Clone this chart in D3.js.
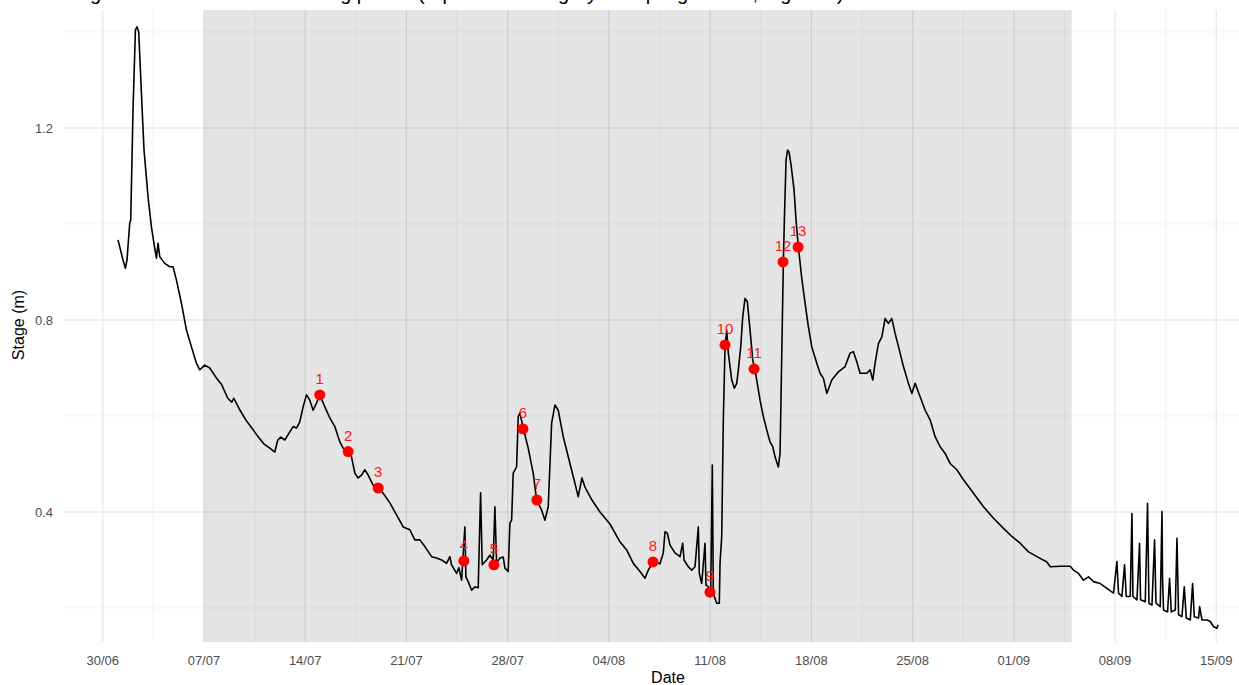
<!DOCTYPE html>
<html>
<head>
<meta charset="utf-8">
<script src="https://cdn.jsdelivr.net/npm/d3@7"></script>
<style>
  body { margin: 0; background: #fff; }
  text { font-family: "Liberation Sans", Arial, sans-serif; }
</style>
</head>
<body>
<div id="chart"></div>
<script>
// stage record: [days since 30/06, stage in m]
const stageRecord = [
  [1.058,0.967],[1.404,0.925],[1.570,0.908],[1.681,0.925],[1.868,1.002],[1.937,1.008],[2.096,1.237],[2.262,1.404],
  [2.373,1.411],[2.490,1.400],[2.677,1.273],[2.857,1.154],[3.134,1.057],[3.369,0.994],[3.597,0.950],[3.715,0.929],
  [3.826,0.960],[3.943,0.932],[4.289,0.918],[4.635,0.911],[4.863,0.911],[5.099,0.883],[5.444,0.835],[5.790,0.779],
  [6.136,0.744],[6.482,0.710],[6.710,0.696],[7.056,0.706],[7.402,0.700],[7.866,0.679],[8.232,0.665],[8.648,0.637],
  [8.924,0.629],[9.063,0.637],[9.478,0.613],[9.893,0.592],[10.308,0.575],[10.723,0.558],[11.138,0.542],[11.553,0.533],
  [11.899,0.525],[12.107,0.550],[12.314,0.556],[12.591,0.550],[12.937,0.567],[13.165,0.578],[13.400,0.575],[13.628,0.588],
  [13.857,0.619],[14.092,0.644],[14.320,0.633],[14.549,0.612],[14.784,0.627],[15.012,0.644],[15.358,0.619],[15.704,0.596],
  [16.050,0.578],[16.396,0.546],[16.624,0.533],[16.970,0.526],[17.205,0.515],[17.433,0.481],[17.662,0.471],[17.897,0.477],
  [18.125,0.488],[18.354,0.477],[18.700,0.456],[19.046,0.450],[19.391,0.439],[19.855,0.419],[20.318,0.394],[20.775,0.369],
  [21.238,0.363],[21.584,0.342],[21.930,0.342],[22.276,0.328],[22.739,0.307],[23.085,0.304],[23.431,0.300],[23.777,0.293],
  [24.005,0.307],[24.123,0.290],[24.469,0.272],[24.628,0.284],[24.815,0.258],[25.043,0.369],[25.112,0.265],[25.271,0.255],
  [25.507,0.237],[25.735,0.244],[25.963,0.242],[26.129,0.440],[26.240,0.290],[26.544,0.300],[26.772,0.310],[27.000,0.300],
  [27.118,0.411],[27.236,0.294],[27.464,0.304],[27.693,0.306],[27.811,0.283],[28.039,0.276],[28.156,0.377],[28.274,0.383],
  [28.385,0.481],[28.620,0.494],[28.731,0.599],[28.848,0.606],[29.076,0.575],[29.422,0.533],[29.768,0.481],[30.003,0.425],
  [30.349,0.404],[30.577,0.383],[30.806,0.411],[31.041,0.585],[31.269,0.623],[31.497,0.612],[31.843,0.557],[32.189,0.515],
  [32.535,0.474],[32.881,0.432],[33.137,0.471],[33.345,0.452],[33.829,0.425],[34.382,0.400],[35.074,0.375],[35.766,0.338],
  [36.229,0.321],[36.686,0.293],[37.150,0.276],[37.496,0.262],[37.724,0.279],[38.070,0.296],[38.533,0.292],[38.762,0.315],
  [38.879,0.359],[39.038,0.356],[39.225,0.331],[39.571,0.315],[39.917,0.307],[40.104,0.335],[40.194,0.300],[40.492,0.286],
  [40.727,0.279],[40.955,0.286],[41.183,0.369],[41.252,0.272],[41.418,0.251],[41.646,0.335],[41.715,0.248],[41.875,0.244],
  [42.041,0.237],[42.151,0.498],[42.220,0.230],[42.456,0.210],[42.635,0.210],[42.684,0.293],[42.801,0.349],[42.912,0.592],
  [43.030,0.744],[43.148,0.779],[43.258,0.731],[43.494,0.675],[43.674,0.658],[43.840,0.668],[43.950,0.696],[44.116,0.744],
  [44.255,0.807],[44.414,0.845],[44.573,0.838],[44.760,0.779],[44.946,0.717],[45.105,0.696],[45.223,0.675],[45.451,0.633],
  [45.680,0.599],[45.915,0.571],[46.143,0.546],[46.330,0.536],[46.489,0.515],[46.717,0.494],[46.835,0.522],[46.994,0.800],
  [47.063,0.921],[47.133,1.008],[47.250,1.133],[47.354,1.154],[47.457,1.150],[47.596,1.123],[47.803,1.071],[47.942,1.008],
  [48.101,0.952],[48.336,0.887],[48.564,0.835],[48.793,0.786],[49.028,0.744],[49.374,0.710],[49.602,0.689],[49.830,0.679],
  [50.066,0.647],[50.412,0.675],[50.868,0.692],[51.332,0.703],[51.677,0.731],[51.906,0.734],[52.141,0.713],[52.369,0.689],
  [52.833,0.689],[53.061,0.696],[53.248,0.675],[53.407,0.710],[53.636,0.751],[53.871,0.765],[54.099,0.803],[54.328,0.793],
  [54.563,0.803],[54.791,0.772],[55.137,0.731],[55.366,0.703],[55.712,0.668],[55.947,0.647],[56.175,0.668],[56.521,0.640],
  [56.867,0.612],[57.212,0.592],[57.558,0.557],[57.904,0.536],[58.250,0.522],[58.596,0.501],[59.060,0.488],[59.516,0.467],
  [60.208,0.439],[60.900,0.411],[61.592,0.387],[62.284,0.366],[62.865,0.349],[63.438,0.335],[64.013,0.317],[64.594,0.307],
  [65.286,0.296],[65.514,0.286],[66.206,0.287],[66.897,0.287],[67.126,0.279],[67.472,0.272],[67.817,0.258],[68.163,0.265],
  [68.509,0.255],[68.973,0.251],[69.436,0.241],[69.893,0.231],[70.128,0.297],[70.239,0.231],[70.474,0.224],[70.654,0.290],
  [70.771,0.224],[71.048,0.224],[71.166,0.397],[71.235,0.224],[71.512,0.217],[71.692,0.335],[71.761,0.217],[72.086,0.213],
  [72.245,0.418],[72.342,0.210],[72.550,0.206],[72.730,0.342],[72.827,0.210],[73.124,0.203],[73.242,0.401],[73.283,0.260],
  [73.352,0.196],[73.629,0.192],[73.767,0.262],[73.885,0.192],[74.162,0.196],[74.279,0.345],[74.390,0.186],[74.625,0.182],
  [74.784,0.244],[74.923,0.179],[75.200,0.175],[75.359,0.251],[75.476,0.182],[75.774,0.179],[75.843,0.203],[76.009,0.175],
  [76.356,0.175],[76.583,0.172],[76.812,0.161],[77.047,0.158],[77.116,0.165]
];

// sampling events
const sampleIds = ["1","2","3","4","5","6","7","8","9","10","11","12","13"];
const sampleDays = [15.01, 16.97, 19.05, 24.97, 27.05, 29.06, 30.02, 38.05, 41.99, 43.03, 45.04, 47.04, 48.08];
const sampleStage = [0.644, 0.526, 0.450, 0.298, 0.290, 0.573, 0.425, 0.296, 0.233, 0.748, 0.698, 0.921, 0.952];

// grey shaded sampling period, days since 30/06
const shadePeriod = [7, 67];

const weekTicks = [0, 7, 14, 21, 28, 35, 42, 49, 56, 63, 70, 77];
const stageMajor = [0.4, 0.8, 1.2];
const stageMinor = [0.2, 0.6, 1.0, 1.4];

const titleText = "Stage record over the monitoring period (represented in grey: sampling events, Figure 3)";

const width = 1239, height = 685;
const panel = {left: 63, right: 1273, top: 8, bottom: 642};

const origin = new Date(2019, 5, 30);
const toDate = d => new Date(origin.getTime() + d * 864e5);

const svg = d3.select("#chart").append("svg")
  .attr("width", width)
  .attr("height", height)
  .style("display", "block");

// x domain with ggplot-like 5% expansion
const dayExt = d3.extent(stageRecord, d => d[0]);
const pad = (dayExt[1] - dayExt[0]) * 0.05;
const x = d3.scaleTime()
  .domain([toDate(dayExt[0] - pad), toDate(dayExt[1] + pad)])
  .range([panel.left, panel.right]);

const y = d3.scaleLinear()
  .domain([0.1292, 1.45])
  .range([panel.bottom, panel.top]);

svg.append("clipPath").attr("id", "clip")
  .append("rect")
  .attr("x", panel.left).attr("y", 10)
  .attr("width", width - panel.left).attr("height", panel.bottom - 10);

const plot = svg.append("g").attr("clip-path", "url(#clip)");

// minor gridlines
const weekMinor = weekTicks.map(d => d - 3.5).concat([80.5]);
plot.selectAll(".vminor").data(weekMinor).enter().append("line")
  .attr("x1", d => x(toDate(d))).attr("x2", d => x(toDate(d)))
  .attr("y1", 0).attr("y2", panel.bottom)
  .attr("stroke", "#ececec").attr("stroke-width", 0.7);
plot.selectAll(".hminor").data(stageMinor).enter().append("line")
  .attr("x1", panel.left).attr("x2", width)
  .attr("y1", d => y(d)).attr("y2", d => y(d))
  .attr("stroke", "#ececec").attr("stroke-width", 0.7);

// major gridlines
plot.selectAll(".vmajor").data(weekTicks).enter().append("line")
  .attr("x1", d => x(toDate(d))).attr("x2", d => x(toDate(d)))
  .attr("y1", 0).attr("y2", panel.bottom)
  .attr("stroke", "#e8e8e8").attr("stroke-width", 1.3);
plot.selectAll(".hmajor").data(stageMajor).enter().append("line")
  .attr("x1", panel.left).attr("x2", width)
  .attr("y1", d => y(d)).attr("y2", d => y(d))
  .attr("stroke", "#e8e8e8").attr("stroke-width", 1.3);

// sampling period shading
plot.append("rect")
  .attr("x", x(toDate(shadePeriod[0])))
  .attr("width", x(toDate(shadePeriod[1])) - x(toDate(shadePeriod[0])))
  .attr("y", 0).attr("height", panel.bottom)
  .attr("fill", "#000").attr("fill-opacity", 0.1);

// stage line
const line = d3.line()
  .x(d => x(toDate(d[0])))
  .y(d => y(d[1]));

plot.append("path")
  .datum(stageRecord)
  .attr("d", line)
  .attr("fill", "none")
  .attr("stroke", "#000")
  .attr("stroke-width", 1.6)
  .attr("stroke-linejoin", "round");

// sample points
const samples = sampleIds.map((id, i) => ({id: id, day: sampleDays[i], stage: sampleStage[i]}));

plot.selectAll(".sample").data(samples).enter().append("circle")
  .attr("cx", d => x(toDate(d.day)))
  .attr("cy", d => y(d.stage))
  .attr("r", 5.5)
  .attr("fill", "#ff0000");

plot.selectAll(".sampleLabel").data(samples).enter().append("text")
  .attr("x", d => x(toDate(d.day)))
  .attr("y", d => y(d.stage) - 11)
  .attr("text-anchor", "middle")
  .attr("font-size", 15)
  .attr("fill", "#ff1a1a")
  .text(d => d.id);

// axes labels
const fmt = d3.timeFormat("%d/%m");
svg.selectAll(".xtick").data(weekTicks).enter().append("text")
  .attr("x", d => x(toDate(d)))
  .attr("y", 665)
  .attr("text-anchor", "middle")
  .attr("font-size", 13)
  .attr("fill", "#4d4d4d")
  .text(d => fmt(toDate(d)));

svg.selectAll(".ytick").data(stageMajor).enter().append("text")
  .attr("x", 53)
  .attr("y", d => y(d) + 4.5)
  .attr("text-anchor", "end")
  .attr("font-size", 13)
  .attr("fill", "#4d4d4d")
  .text(d => d.toFixed(1));

svg.append("text")
  .attr("x", (panel.left + panel.right) / 2)
  .attr("y", 683)
  .attr("text-anchor", "middle")
  .attr("font-size", 16)
  .attr("fill", "#000")
  .text("Date");

svg.append("text")
  .attr("transform", "translate(24," + ((panel.top + panel.bottom) / 2) + ") rotate(-90)")
  .attr("text-anchor", "middle")
  .attr("font-size", 16)
  .attr("fill", "#000")
  .text("Stage (m)");

// caption text cut off by the top edge, only descenders show
svg.append("text")
  .attr("x", 60)
  .attr("y", 0)
  .attr("font-size", 20)
  .attr("fill", "#000")
  .text(titleText);
</script>
</body>
</html>
